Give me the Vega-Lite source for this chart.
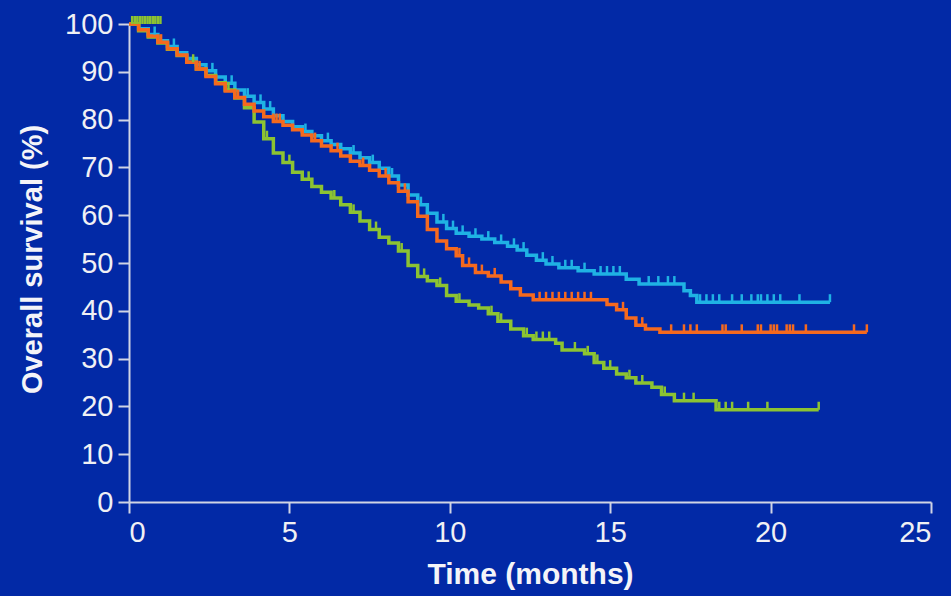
{
  "$schema": "https://vega.github.io/schema/vega-lite/v6.json",
  "width": 802,
  "height": 478,
  "autosize": "none",
  "padding": {"left": 129, "top": 24, "right": 20, "bottom": 94},
  "background": "#0229a6",
  "config": {
    "view": {"stroke": null},
    "font": "Liberation Sans",
    "axis": {
      "grid": false,
      "labelFont": "Liberation Sans",
      "labelFontSize": 29,
      "labelColor": "#f0f0f4",
      "domainColor": "#d0d4e4",
      "tickColor": "#d0d4e4",
      "domainWidth": 2,
      "tickWidth": 2,
      "tickSize": 11,
      "titleFont": "Liberation Sans",
      "titleFontSize": 30,
      "titleFontWeight": "bold",
      "titleColor": "#f4f4f8"
    }
  },
  "datasets": {
    "curves": [
      {"g": "A", "t": 0, "s": 100}, {"g": "A", "t": 0.3, "s": 99}, {"g": "A", "t": 0.6, "s": 97.8}, {"g": "A", "t": 0.9, "s": 96.5},
      {"g": "A", "t": 1.2, "s": 95.3}, {"g": "A", "t": 1.5, "s": 94}, {"g": "A", "t": 1.8, "s": 92.8}, {"g": "A", "t": 2.1, "s": 91.5},
      {"g": "A", "t": 2.4, "s": 90.2}, {"g": "A", "t": 2.7, "s": 88.9}, {"g": "A", "t": 3.0, "s": 87.6}, {"g": "A", "t": 3.3, "s": 86.2},
      {"g": "A", "t": 3.6, "s": 84.9}, {"g": "A", "t": 3.9, "s": 83.6}, {"g": "A", "t": 4.2, "s": 82.2}, {"g": "A", "t": 4.5, "s": 80.8},
      {"g": "A", "t": 4.8, "s": 79.6}, {"g": "A", "t": 5.1, "s": 78.5}, {"g": "A", "t": 5.4, "s": 77.5}, {"g": "A", "t": 5.7, "s": 76.6},
      {"g": "A", "t": 6.0, "s": 75.6}, {"g": "A", "t": 6.3, "s": 74.8}, {"g": "A", "t": 6.6, "s": 73.9}, {"g": "A", "t": 6.9, "s": 73},
      {"g": "A", "t": 7.2, "s": 72}, {"g": "A", "t": 7.5, "s": 71}, {"g": "A", "t": 7.8, "s": 69.8}, {"g": "A", "t": 8.1, "s": 68.2},
      {"g": "A", "t": 8.4, "s": 66.3}, {"g": "A", "t": 8.7, "s": 64.2}, {"g": "A", "t": 9.0, "s": 62.2}, {"g": "A", "t": 9.3, "s": 60.4},
      {"g": "A", "t": 9.6, "s": 58.6}, {"g": "A", "t": 9.9, "s": 57.2}, {"g": "A", "t": 10.2, "s": 56.2}, {"g": "A", "t": 10.6, "s": 55.6},
      {"g": "A", "t": 11.0, "s": 55}, {"g": "A", "t": 11.4, "s": 54.3}, {"g": "A", "t": 11.8, "s": 53.5}, {"g": "A", "t": 12.1, "s": 52.7},
      {"g": "A", "t": 12.4, "s": 51.6}, {"g": "A", "t": 12.7, "s": 50.6}, {"g": "A", "t": 13.0, "s": 49.8}, {"g": "A", "t": 13.4, "s": 49},
      {"g": "A", "t": 14.0, "s": 48.4}, {"g": "A", "t": 14.5, "s": 47.7}, {"g": "A", "t": 15.5, "s": 46.6}, {"g": "A", "t": 15.9, "s": 45.6},
      {"g": "A", "t": 17.3, "s": 44.2}, {"g": "A", "t": 17.5, "s": 43.2}, {"g": "A", "t": 17.7, "s": 41.8}, {"g": "A", "t": 21.85, "s": 41.8},

      {"g": "C", "t": 0, "s": 100}, {"g": "C", "t": 0.3, "s": 98.6}, {"g": "C", "t": 0.6, "s": 97.3}, {"g": "C", "t": 0.9, "s": 96},
      {"g": "C", "t": 1.2, "s": 94.7}, {"g": "C", "t": 1.5, "s": 93.4}, {"g": "C", "t": 1.8, "s": 92}, {"g": "C", "t": 2.1, "s": 90.6},
      {"g": "C", "t": 2.4, "s": 89.2}, {"g": "C", "t": 2.7, "s": 87.7}, {"g": "C", "t": 3.0, "s": 86.2}, {"g": "C", "t": 3.3, "s": 84.5},
      {"g": "C", "t": 3.6, "s": 82.5}, {"g": "C", "t": 3.9, "s": 79.5}, {"g": "C", "t": 4.2, "s": 76}, {"g": "C", "t": 4.5, "s": 73},
      {"g": "C", "t": 4.8, "s": 71}, {"g": "C", "t": 5.1, "s": 69}, {"g": "C", "t": 5.4, "s": 67.5}, {"g": "C", "t": 5.7, "s": 66},
      {"g": "C", "t": 6.0, "s": 64.8}, {"g": "C", "t": 6.3, "s": 63.6}, {"g": "C", "t": 6.6, "s": 62.2}, {"g": "C", "t": 6.9, "s": 60.6},
      {"g": "C", "t": 7.2, "s": 58.8}, {"g": "C", "t": 7.5, "s": 57}, {"g": "C", "t": 7.8, "s": 55.4}, {"g": "C", "t": 8.1, "s": 54.2},
      {"g": "C", "t": 8.4, "s": 52.5}, {"g": "C", "t": 8.7, "s": 49.5}, {"g": "C", "t": 9.0, "s": 47.2}, {"g": "C", "t": 9.3, "s": 46.3},
      {"g": "C", "t": 9.6, "s": 45.3}, {"g": "C", "t": 9.9, "s": 43.2}, {"g": "C", "t": 10.2, "s": 42}, {"g": "C", "t": 10.6, "s": 41.2},
      {"g": "C", "t": 10.9, "s": 40.6}, {"g": "C", "t": 11.2, "s": 39.4}, {"g": "C", "t": 11.5, "s": 37.8}, {"g": "C", "t": 11.9, "s": 36.2},
      {"g": "C", "t": 12.3, "s": 34.8}, {"g": "C", "t": 12.6, "s": 34}, {"g": "C", "t": 13.3, "s": 33.2}, {"g": "C", "t": 13.5, "s": 31.8},
      {"g": "C", "t": 14.2, "s": 31}, {"g": "C", "t": 14.5, "s": 29.2}, {"g": "C", "t": 14.8, "s": 28}, {"g": "C", "t": 15.2, "s": 26.8},
      {"g": "C", "t": 15.5, "s": 26}, {"g": "C", "t": 15.8, "s": 24.9}, {"g": "C", "t": 16.3, "s": 24}, {"g": "C", "t": 16.6, "s": 22.5},
      {"g": "C", "t": 17.0, "s": 21.2}, {"g": "C", "t": 18.3, "s": 19.3}, {"g": "C", "t": 21.5, "s": 19.3},

      {"g": "B", "t": 0, "s": 100}, {"g": "B", "t": 0.3, "s": 98.8}, {"g": "B", "t": 0.6, "s": 97.5}, {"g": "B", "t": 0.9, "s": 96.2},
      {"g": "B", "t": 1.2, "s": 94.8}, {"g": "B", "t": 1.5, "s": 93.5}, {"g": "B", "t": 1.8, "s": 92}, {"g": "B", "t": 2.1, "s": 90.6},
      {"g": "B", "t": 2.4, "s": 89}, {"g": "B", "t": 2.7, "s": 87.5}, {"g": "B", "t": 3.0, "s": 86}, {"g": "B", "t": 3.3, "s": 84.6},
      {"g": "B", "t": 3.6, "s": 83.2}, {"g": "B", "t": 3.9, "s": 81.8}, {"g": "B", "t": 4.2, "s": 80.6}, {"g": "B", "t": 4.5, "s": 79.6},
      {"g": "B", "t": 4.8, "s": 78.8}, {"g": "B", "t": 5.1, "s": 77.9}, {"g": "B", "t": 5.4, "s": 76.8}, {"g": "B", "t": 5.7, "s": 75.6},
      {"g": "B", "t": 6.0, "s": 74.5}, {"g": "B", "t": 6.3, "s": 73.5}, {"g": "B", "t": 6.6, "s": 72.4}, {"g": "B", "t": 6.9, "s": 71.3},
      {"g": "B", "t": 7.2, "s": 70.4}, {"g": "B", "t": 7.5, "s": 69.4}, {"g": "B", "t": 7.8, "s": 68.2}, {"g": "B", "t": 8.1, "s": 66.8},
      {"g": "B", "t": 8.4, "s": 65}, {"g": "B", "t": 8.7, "s": 62.8}, {"g": "B", "t": 9.0, "s": 59.8}, {"g": "B", "t": 9.3, "s": 57},
      {"g": "B", "t": 9.6, "s": 54.6}, {"g": "B", "t": 9.9, "s": 53}, {"g": "B", "t": 10.2, "s": 51.5}, {"g": "B", "t": 10.4, "s": 49.5},
      {"g": "B", "t": 10.8, "s": 48}, {"g": "B", "t": 11.2, "s": 47.3}, {"g": "B", "t": 11.6, "s": 46}, {"g": "B", "t": 11.9, "s": 44.6},
      {"g": "B", "t": 12.2, "s": 43.3}, {"g": "B", "t": 12.6, "s": 42.3}, {"g": "B", "t": 14.9, "s": 41.3}, {"g": "B", "t": 15.2, "s": 40.2},
      {"g": "B", "t": 15.5, "s": 38.5}, {"g": "B", "t": 15.8, "s": 37}, {"g": "B", "t": 16.1, "s": 36.2}, {"g": "B", "t": 16.55, "s": 35.5},
      {"g": "B", "t": 23.0, "s": 35.5}
    ],
    "censor": [
      {"g": "A", "t": 0.8, "s": 97.8}, {"g": "A", "t": 1.4, "s": 95.3}, {"g": "A", "t": 2.6, "s": 90.2}, {"g": "A", "t": 3.2, "s": 87.6},
      {"g": "A", "t": 3.7, "s": 84.9}, {"g": "A", "t": 4.1, "s": 83.6}, {"g": "A", "t": 4.4, "s": 82.2}, {"g": "A", "t": 5.5, "s": 77.5},
      {"g": "A", "t": 6.2, "s": 75.6}, {"g": "A", "t": 7.0, "s": 73}, {"g": "A", "t": 7.6, "s": 71}, {"g": "A", "t": 8.2, "s": 68.2},
      {"g": "A", "t": 9.1, "s": 62.2}, {"g": "A", "t": 9.8, "s": 58.6}, {"g": "A", "t": 10.1, "s": 57.2}, {"g": "A", "t": 10.4, "s": 56.2},
      {"g": "A", "t": 10.8, "s": 55.6}, {"g": "A", "t": 11.2, "s": 55}, {"g": "A", "t": 11.6, "s": 54.3}, {"g": "A", "t": 12.0, "s": 53.5},
      {"g": "A", "t": 12.3, "s": 52.7}, {"g": "A", "t": 12.9, "s": 50.6}, {"g": "A", "t": 13.2, "s": 49.8}, {"g": "A", "t": 13.6, "s": 49},
      {"g": "A", "t": 13.8, "s": 49}, {"g": "A", "t": 14.2, "s": 48.4}, {"g": "A", "t": 14.7, "s": 47.7}, {"g": "A", "t": 14.9, "s": 47.7},
      {"g": "A", "t": 15.1, "s": 47.7}, {"g": "A", "t": 15.3, "s": 47.7}, {"g": "A", "t": 16.2, "s": 45.6}, {"g": "A", "t": 16.5, "s": 45.6},
      {"g": "A", "t": 16.8, "s": 45.6}, {"g": "A", "t": 17.0, "s": 45.6}, {"g": "A", "t": 17.8, "s": 41.8}, {"g": "A", "t": 18.0, "s": 41.8},
      {"g": "A", "t": 18.2, "s": 41.8}, {"g": "A", "t": 18.4, "s": 41.8}, {"g": "A", "t": 18.8, "s": 41.8}, {"g": "A", "t": 19.1, "s": 41.8},
      {"g": "A", "t": 19.4, "s": 41.8}, {"g": "A", "t": 19.6, "s": 41.8}, {"g": "A", "t": 19.7, "s": 41.8}, {"g": "A", "t": 19.9, "s": 41.8},
      {"g": "A", "t": 20.1, "s": 41.8}, {"g": "A", "t": 20.3, "s": 41.8}, {"g": "A", "t": 20.9, "s": 41.8}, {"g": "A", "t": 21.85, "s": 41.8},

      {"g": "C", "t": 0.1, "s": 100}, {"g": "C", "t": 0.18, "s": 100}, {"g": "C", "t": 0.26, "s": 100}, {"g": "C", "t": 0.34, "s": 100},
      {"g": "C", "t": 0.42, "s": 100}, {"g": "C", "t": 0.5, "s": 100}, {"g": "C", "t": 0.58, "s": 100}, {"g": "C", "t": 0.66, "s": 100},
      {"g": "C", "t": 0.74, "s": 100}, {"g": "C", "t": 0.82, "s": 100}, {"g": "C", "t": 0.9, "s": 100}, {"g": "C", "t": 0.98, "s": 100},
      {"g": "C", "t": 2.0, "s": 92}, {"g": "C", "t": 3.1, "s": 86.2}, {"g": "C", "t": 4.3, "s": 76}, {"g": "C", "t": 5.0, "s": 71},
      {"g": "C", "t": 5.6, "s": 67.5}, {"g": "C", "t": 6.4, "s": 63.6}, {"g": "C", "t": 7.0, "s": 60.6}, {"g": "C", "t": 7.7, "s": 57},
      {"g": "C", "t": 8.5, "s": 52.5}, {"g": "C", "t": 9.2, "s": 47.2}, {"g": "C", "t": 9.7, "s": 45.3}, {"g": "C", "t": 10.3, "s": 42},
      {"g": "C", "t": 11.3, "s": 39.4}, {"g": "C", "t": 11.6, "s": 37.8}, {"g": "C", "t": 12.4, "s": 34.8}, {"g": "C", "t": 12.7, "s": 34},
      {"g": "C", "t": 12.9, "s": 34}, {"g": "C", "t": 13.1, "s": 34}, {"g": "C", "t": 13.9, "s": 31.8}, {"g": "C", "t": 14.3, "s": 31},
      {"g": "C", "t": 14.6, "s": 29.2}, {"g": "C", "t": 15.0, "s": 28}, {"g": "C", "t": 15.6, "s": 26}, {"g": "C", "t": 16.0, "s": 24.9},
      {"g": "C", "t": 16.7, "s": 22.5}, {"g": "C", "t": 17.3, "s": 21.2}, {"g": "C", "t": 17.6, "s": 21.2}, {"g": "C", "t": 18.4, "s": 19.3},
      {"g": "C", "t": 18.6, "s": 19.3}, {"g": "C", "t": 18.8, "s": 19.3}, {"g": "C", "t": 19.3, "s": 19.3}, {"g": "C", "t": 19.9, "s": 19.3},
      {"g": "C", "t": 21.5, "s": 19.3},

      {"g": "B", "t": 1.0, "s": 96.2}, {"g": "B", "t": 2.2, "s": 90.6}, {"g": "B", "t": 3.4, "s": 84.6}, {"g": "B", "t": 4.5, "s": 79.6},
      {"g": "B", "t": 4.6, "s": 79.6}, {"g": "B", "t": 4.7, "s": 79.6}, {"g": "B", "t": 5.8, "s": 75.6}, {"g": "B", "t": 6.5, "s": 73.5},
      {"g": "B", "t": 7.3, "s": 70.4}, {"g": "B", "t": 8.0, "s": 68.2}, {"g": "B", "t": 8.6, "s": 65}, {"g": "B", "t": 10.3, "s": 51.5},
      {"g": "B", "t": 10.6, "s": 49.5}, {"g": "B", "t": 11.0, "s": 48}, {"g": "B", "t": 11.4, "s": 47.3}, {"g": "B", "t": 12.8, "s": 42.3},
      {"g": "B", "t": 13.0, "s": 42.3}, {"g": "B", "t": 13.2, "s": 42.3}, {"g": "B", "t": 13.4, "s": 42.3}, {"g": "B", "t": 13.6, "s": 42.3},
      {"g": "B", "t": 13.8, "s": 42.3}, {"g": "B", "t": 14.0, "s": 42.3}, {"g": "B", "t": 14.2, "s": 42.3}, {"g": "B", "t": 14.4, "s": 42.3},
      {"g": "B", "t": 15.4, "s": 40.2}, {"g": "B", "t": 16.0, "s": 37}, {"g": "B", "t": 16.9, "s": 35.5}, {"g": "B", "t": 17.3, "s": 35.5},
      {"g": "B", "t": 17.5, "s": 35.5}, {"g": "B", "t": 17.7, "s": 35.5}, {"g": "B", "t": 18.5, "s": 35.5}, {"g": "B", "t": 18.6, "s": 35.5},
      {"g": "B", "t": 19.1, "s": 35.5}, {"g": "B", "t": 19.6, "s": 35.5}, {"g": "B", "t": 19.7, "s": 35.5}, {"g": "B", "t": 20.0, "s": 35.5},
      {"g": "B", "t": 20.1, "s": 35.5}, {"g": "B", "t": 20.2, "s": 35.5}, {"g": "B", "t": 20.5, "s": 35.5}, {"g": "B", "t": 20.6, "s": 35.5},
      {"g": "B", "t": 20.7, "s": 35.5}, {"g": "B", "t": 21.1, "s": 35.5}, {"g": "B", "t": 22.6, "s": 35.5}, {"g": "B", "t": 23.0, "s": 35.5}
    ]
  },
  "encoding": {
    "x": {
      "field": "t", "type": "quantitative",
      "scale": {"domain": [0, 25], "nice": false, "zero": false},
      "axis": {"values": [0, 5, 10, 15, 20, 25], "title": "Time (months)", "labelPadding": 5, "titlePadding": 12}
    },
    "y": {
      "field": "s", "type": "quantitative",
      "scale": {"domain": [0, 100], "nice": false},
      "axis": {"values": [0, 10, 20, 30, 40, 50, 60, 70, 80, 90, 100], "title": "Overall survival (%)", "labelPadding": 5,
               "titleX": -97, "titleY": 235, "titleAngle": -90, "titleAlign": "center", "titleBaseline": "middle", "titleFontSize": 29}
    },
    "color": {
      "field": "g", "type": "nominal",
      "scale": {"domain": ["A", "C", "B"], "range": ["#1fb2e4", "#8cc332", "#f5691e"]},
      "legend": null
    }
  },
  "layer": [
    {
      "data": {"name": "curves"},
      "mark": {"type": "line", "interpolate": "step-after", "strokeWidth": 3.5, "strokeJoin": "miter"}
    },
    {
      "data": {"name": "censor"},
      "mark": {"type": "tick", "orient": "vertical", "size": 8, "thickness": 2.5, "yOffset": -4, "opacity": 1}
    }
  ]
}
